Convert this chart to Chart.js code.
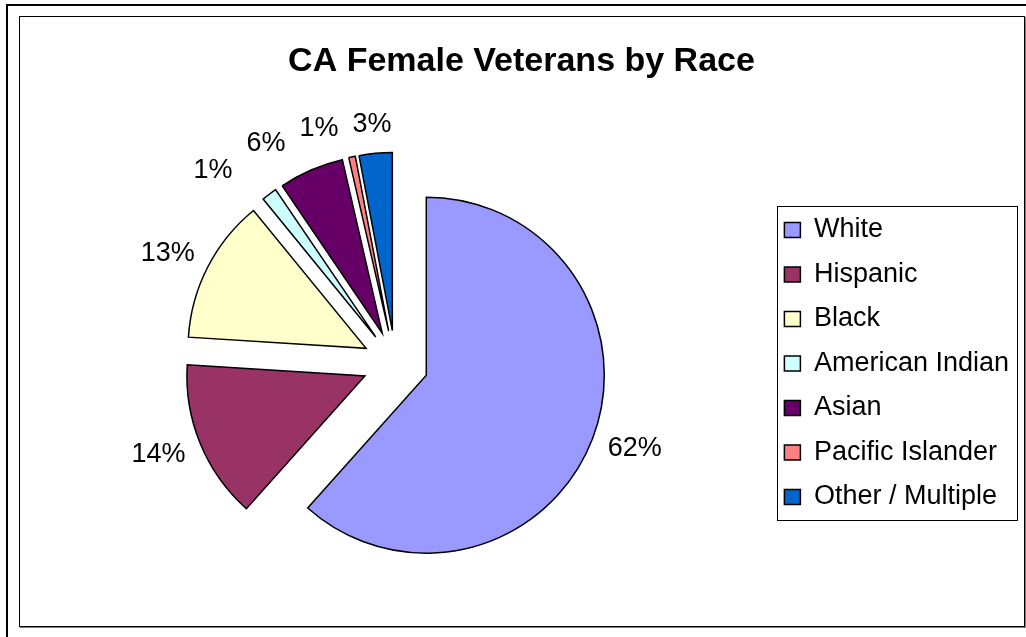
<!DOCTYPE html>
<html>
<head>
<meta charset="utf-8">
<title>CA Female Veterans by Race</title>
<script src="https://cdn.jsdelivr.net/npm/chart.js@4/dist/chart.umd.min.js"></script>
<style>
  html, body { margin: 0; padding: 0; background: #fff; }
  body { width: 1026px; height: 637px; position: relative; overflow: hidden; }
  .sheet-top { position: absolute; left: 6px; top: 4px; width: 1020px; height: 2px; background: #000; }
  .sheet-left { position: absolute; left: 6px; top: 4px; width: 2px; height: 633px; background: #000; }
  .frame { position: absolute; left: 19px; top: 16px; width: 1004px; height: 609px; border: 1px solid #000; box-shadow: 1px 1px 0 #808080; }
  #pieChart { position: absolute; left: 0; top: 0; }
</style>
</head>
<body>
<div class="sheet-top"></div>
<div class="sheet-left"></div>
<div class="frame"></div>
<canvas id="pieChart" width="1026" height="637"></canvas>
<script>
const races = ['White', 'Hispanic', 'Black', 'American Indian', 'Asian', 'Pacific Islander', 'Other / Multiple'];
const shares = [61.6, 14.4, 13.1, 1.4, 5.9, 0.6, 3.0];
const sliceColors = ['#9999FF', '#993366', '#FFFFCC', '#CCFFFF', '#660066', '#FF8080', '#0066CC'];

const FONT = '"Liberation Sans", Arial, sans-serif';
const RADIUS = 178;
const EXPLODE = 33; // how far every slice is pulled out from the centre

// pull each slice straight out along its bisector (plain shift, no resizing)
const explode = {
  id: 'explode',
  afterDatasetUpdate(chart, args) {
    for (const arc of args.meta.data) {
      const mid = (arc.startAngle + arc.endAngle) / 2;
      arc.x += Math.cos(mid) * EXPLODE;
      arc.y += Math.sin(mid) * EXPLODE;
    }
  }
};

// percentage labels outside each slice, nudged left when they bump into each other
const pctLabels = {
  id: 'pctLabels',
  afterDatasetsDraw(chart) {
    const ctx = chart.ctx;
    const arcs = chart.getDatasetMeta(0).data;
    const total = shares.reduce((a, b) => a + b, 0);
    ctx.save();
    ctx.font = '27px ' + FONT;
    ctx.fillStyle = '#000';
    ctx.textAlign = 'center';
    ctx.textBaseline = 'middle';
    const placed = [];
    for (let i = arcs.length - 1; i >= 0; i--) {
      const p = arcs[i].getProps(['x', 'y', 'startAngle', 'endAngle', 'outerRadius'], true);
      const mid = (p.startAngle + p.endAngle) / 2;
      const cos = Math.cos(mid), sin = Math.sin(mid);
      const text = Math.round(shares[i] / total * 100) + '%';
      const w = ctx.measureText(text).width, h = 22;
      const r = p.outerRadius + 18;
      let cx = p.x + cos * (r + w / 2);
      let cy = p.y + sin * (r + h / 2);
      for (const b of placed) {
        const hit = Math.abs(cy - b.y) < (h + b.h) / 2 + 10 &&
          cx + w / 2 + 14 > b.x - b.w / 2 && cx - w / 2 < b.x + b.w / 2 + 14;
        if (hit) cx = b.x - b.w / 2 - 14 - w / 2;
      }
      placed.push({ x: cx, y: cy, w, h });
      ctx.fillText(text, cx, cy);
    }
    ctx.restore();
  }
};

// box round the legend
const legendFrame = {
  id: 'legendFrame',
  afterDraw(chart) {
    const boxes = chart.legend.legendHitBoxes;
    if (!boxes.length) return;
    const first = boxes[0], last = boxes[boxes.length - 1];
    const right = Math.max(...boxes.map(b => b.left + b.width));
    const ctx = chart.ctx;
    ctx.save();
    ctx.strokeStyle = '#000';
    ctx.lineWidth = 1;
    ctx.strokeRect(Math.round(first.left - 7) + 0.5, Math.round(first.top + first.height / 2 - 24) + 0.5,
      Math.round(right + 8 - first.left + 7), Math.round(last.top - first.top + 47));
    ctx.restore();
  }
};

new Chart(document.getElementById('pieChart'), {
  type: 'pie',
  data: {
    labels: races,
    datasets: [{
      data: shares,
      backgroundColor: sliceColors,
      borderColor: '#000',
      borderWidth: 1.5,
      borderJoinStyle: 'miter',
      hoverOffset: 0
    }]
  },
  options: {
    responsive: false,
    animation: false,
    events: [],
    radius: RADIUS,
    layout: { padding: { left: 24, right: 7, top: 16, bottom: 11 } },
    plugins: {
      title: {
        display: true,
        text: 'CA Female Veterans by Race',
        color: '#000',
        font: { family: FONT, size: 34, weight: 'bold' },
        padding: { top: 25, bottom: 19 }
      },
      legend: {
        position: 'right',
        fullSize: false,
        labels: {
          color: '#000',
          font: { family: FONT, size: 27 },
          boxWidth: 16,
          boxHeight: 15,
          padding: 17.5
        }
      },
      tooltip: { enabled: false }
    }
  },
  plugins: [explode, pctLabels, legendFrame]
});
</script>
</body>
</html>
